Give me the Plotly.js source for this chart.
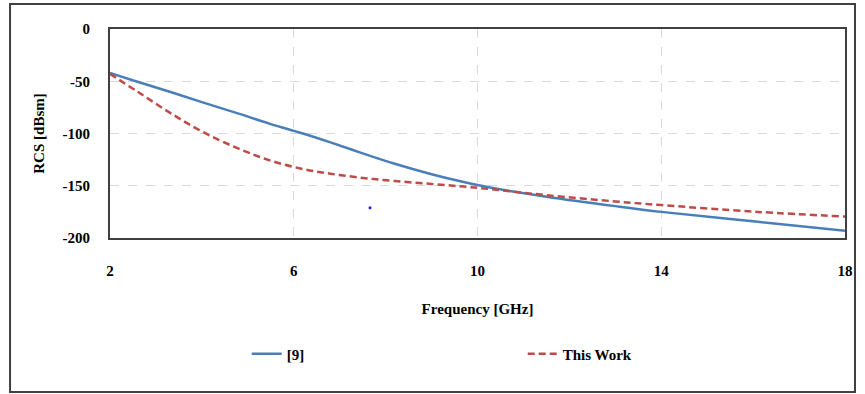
<!DOCTYPE html>
<html>
<head>
<meta charset="utf-8">
<script src="https://cdn.plot.ly/plotly-3.0.1.min.js"></script>
<style>html,body{margin:0;padding:0;background:#fff;}#chart{width:865px;height:394px;}</style>
</head>
<body>
<div id="chart"></div>
<script>
// Frequency points (GHz)
var freq = [2, 2.6, 3.3, 4, 4.8, 5.5, 6.2, 6.8, 7.5, 8.2, 9, 9.7, 10.3, 11.5, 13, 14, 16.1, 18];
// Reference [9]
var ref9 = [-42, -50.5, -60, -70, -81, -91, -100, -108.5, -119, -129, -139, -146.5, -152, -160.5, -169.5, -175, -184.5, -193];
// This Work
var thisWork = [-43, -60, -80, -98, -114.5, -126, -134, -138.5, -142.5, -145.5, -148.3, -150.8, -153.3, -159, -165, -168.5, -175, -179.5];
// Stray point in the original figure
var strayX = [7.66];
var strayY = [-171];

var xTicks = [2, 6, 10, 14, 18];
var yTicks = [0, -50, -100, -150, -200];

var tickFont = {family: '"Liberation Serif", "Times New Roman", serif', size: 15, color: '#000', weight: 'bold'};

var traces = [
  {x: freq, y: ref9, name: '[9]', mode: 'lines', line: {color: '#4a7ebb', width: 2.5, shape: 'spline', smoothing: 1}},
  {x: freq, y: thisWork, name: 'This Work', mode: 'lines', line: {color: '#be4b48', width: 2.5, dash: '7px,4px', shape: 'spline', smoothing: 1}},
  {x: strayX, y: strayY, mode: 'markers', showlegend: false, marker: {color: '#1a1aff', size: 3}, hoverinfo: 'skip'}
];

var layout = {
  width: 865, height: 394,
  margin: {l: 110, r: 20, t: 29, b: 156},
  paper_bgcolor: '#fff', plot_bgcolor: '#fff',
  showlegend: true,
  xaxis: {
    range: [2, 18], tickvals: xTicks, ticktext: xTicks.map(String),
    showgrid: true, gridcolor: '#d9d9d9', griddash: 'dash', gridwidth: 1,
    zeroline: false, showline: true, linecolor: '#404040', linewidth: 2, mirror: true,
    ticks: 'outside', ticklen: 18, tickcolor: 'rgba(0,0,0,0)',
    tickfont: tickFont,
    title: {text: 'Frequency [GHz]', font: tickFont, standoff: 25}
  },
  yaxis: {
    range: [-200, 0], tickvals: yTicks, ticktext: yTicks.map(String),
    showgrid: true, gridcolor: '#d9d9d9', griddash: 'dash', gridwidth: 1,
    zeroline: false, showline: true, linecolor: '#404040', linewidth: 2, mirror: true,
    ticks: 'outside', ticklen: 15, tickcolor: 'rgba(0,0,0,0)',
    tickfont: tickFont,
    title: {text: 'RCS [dBsm]', font: tickFont, standoff: 14}
  },
  legend: {
    orientation: 'h', x: 0.186, xanchor: 'left', y: -0.555, yanchor: 'middle',
    font: tickFont, entrywidth: 231, entrywidthmode: 'pixels',
    bgcolor: 'rgba(0,0,0,0)'
  },
  shapes: [
    {type: 'rect', xref: 'paper', yref: 'paper', x0: -0.136, x1: 1.0136, y0: -0.737, y1: 1.1196,
     line: {color: '#404040', width: 2}, layer: 'below'}
  ]
};

Plotly.newPlot('chart', traces, layout, {displayModeBar: false, staticPlot: true});
</script>
</body>
</html>
